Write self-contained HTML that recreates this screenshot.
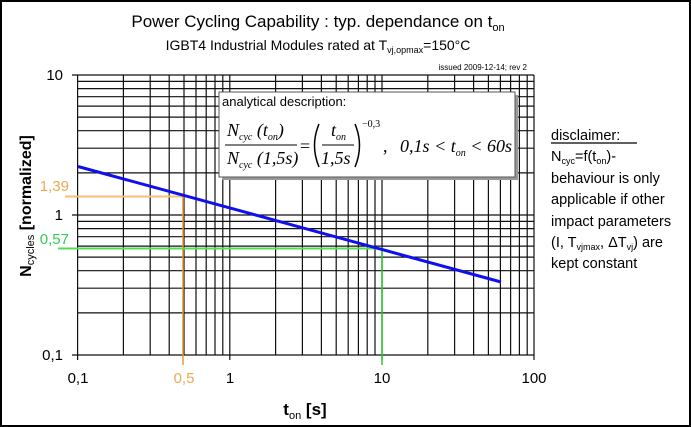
<!DOCTYPE html>
<html><head><meta charset="utf-8"><style>
html,body{margin:0;padding:0;background:#fff}
svg{display:block}
text{font-family:"Liberation Sans",Arial,sans-serif}
text.s{font-family:"Liberation Serif","Times New Roman",serif;font-style:italic}
</style></head><body>
<svg width="691" height="427" viewBox="0 0 691 427" xmlns="http://www.w3.org/2000/svg">
<rect x="1" y="1" width="689" height="425" fill="#fff" stroke="#000" stroke-width="2"/>
<text x="318" y="27" font-size="17" text-anchor="middle">Power Cycling Capability : typ. dependance on t<tspan font-size="11" dy="4">on</tspan></text>
<text x="318" y="50" font-size="14" text-anchor="middle">IGBT4 Industrial Modules rated at T<tspan font-size="9" dy="3">vj,opmax</tspan><tspan dy="-3">=150°C</tspan></text>
<text x="527" y="70" font-size="8" text-anchor="end">issued 2009-12-14; rev 2</text>
<g stroke="#111" stroke-width="1.2" fill="none">
<path d="M77.6 75V355M123.4 75V355M150.2 75V355M169.2 75V355M184 75V355M196 75V355M206.2 75V355M215 75V355M222.8 75V355M229.8 75V355M275.6 75V355M302.4 75V355M321.4 75V355M336.2 75V355M348.2 75V355M358.4 75V355M367.2 75V355M375 75V355M382 75V355M427.8 75V355M454.6 75V355M473.6 75V355M488.4 75V355M500.4 75V355M510.6 75V355M519.4 75V355M527.2 75V355M534 75V355"/>
<path d="M72 75H534M77.6 81.4H534M77.6 88.6H534M77.6 96.7H534M77.6 106.1H534M77.6 117.1H534M77.6 130.7H534M77.6 148.2H534M77.6 172.9H534M72 215H534M77.6 221.4H534M77.6 228.6H534M77.6 236.7H534M77.6 246.1H534M77.6 257.1H534M77.6 270.7H534M77.6 288.2H534M77.6 312.9H534M72 355H534"/>
<path d="M77.6 355V360M229.8 355V360M382 355V360M534 355V360"/>
</g>
<rect x="222" y="95" width="296" height="85" fill="#999"/>
<rect x="219" y="92" width="296" height="85" fill="#fff" stroke="#555" stroke-width="1"/>
<text x="222" y="106" font-size="13">analytical description:</text>
<text class="s" x="227" y="136" font-size="18">N<tspan font-size="10" dy="4">cyc</tspan><tspan dy="-4"> (t</tspan><tspan font-size="10" dy="4">on</tspan><tspan dy="-4">)</tspan></text>
<text class="s" x="227" y="164" font-size="18">N<tspan font-size="10" dy="4">cyc</tspan><tspan dy="-4"> (1,5s)</tspan></text>
<text class="s" x="300" y="152" font-size="18" style="font-style:normal">=</text>
<path d="M319 124 Q310 145.5 319 167" stroke="#000" stroke-width="1.5" fill="none"/>
<path d="M355 124 Q364 145.5 355 167" stroke="#000" stroke-width="1.5" fill="none"/>
<text class="s" x="331" y="136" font-size="18">t<tspan font-size="10" dy="4">on</tspan></text>
<text class="s" x="321" y="164" font-size="18">1,5s</text>
<text class="s" x="362" y="127" font-size="10" style="font-style:normal">−0,3</text>
<text class="s" x="383" y="152" font-size="18" style="font-style:normal">,</text>
<text class="s" x="400" y="152" font-size="18" textLength="112">0,1s &lt; t<tspan font-size="10" dy="4">on</tspan><tspan dy="-4"> &lt; 60s</tspan></text>
<line x1="225" y1="145" x2="297" y2="145" stroke="#000" stroke-width="1"/>
<line x1="322" y1="145" x2="354" y2="145" stroke="#000" stroke-width="1"/>
<line x1="65" y1="196.5" x2="184" y2="196.5" stroke="#f5c070" stroke-width="2"/>
<line x1="183" y1="196" x2="183" y2="365" stroke="#e89a30" stroke-width="1.5"/>
<line x1="58" y1="248.5" x2="382" y2="248.5" stroke="#55dd55" stroke-width="2"/>
<line x1="382" y1="248" x2="382" y2="365" stroke="#22cc22" stroke-width="1.5"/>
<line x1="78" y1="166.5" x2="501" y2="282" stroke="#1010ee" stroke-width="3"/>
<g font-size="15" text-anchor="end">
<text x="63" y="80">10</text>
<text x="63" y="220">1</text>
<text x="63" y="360">0,1</text>
<text x="69" y="191" fill="#f0a850">1,39</text>
<text x="69" y="244" fill="#33cc55">0,57</text>
</g>
<g font-size="15" text-anchor="middle">
<text x="78" y="383">0,1</text>
<text x="184" y="383" fill="#f0a850">0,5</text>
<text x="230" y="383">1</text>
<text x="382" y="383">10</text>
<text x="534" y="383">100</text>
</g>
<text x="305" y="415" font-size="17" font-weight="bold" text-anchor="middle">t<tspan font-size="11" dy="4" font-weight="normal">on</tspan><tspan dy="-4"> [s]</tspan></text>
<text transform="translate(31,206) rotate(-90)" font-size="16" font-weight="bold" text-anchor="middle">N<tspan font-size="11" dy="3" font-weight="normal">cycles</tspan><tspan dy="-3"> [normalized]</tspan></text>
<g font-size="14.5">
<text x="551" y="140">disclaimer:</text>
<line x1="551" y1="143" x2="637" y2="143" stroke="#000" stroke-width="1.2"/>
<text x="551" y="161">N<tspan font-size="9" dy="3">cyc</tspan><tspan dy="-3">=f(t</tspan><tspan font-size="9" dy="3">on</tspan><tspan dy="-3">)-</tspan></text>
<text x="551" y="183">behaviour is only</text>
<text x="551" y="204">applicable if other</text>
<text x="551" y="226">impact parameters</text>
<text x="551" y="247">(I, T<tspan font-size="9" dy="3">vjmax</tspan><tspan dy="-3">, ΔT</tspan><tspan font-size="9" dy="3">vj</tspan><tspan dy="-3">) are</tspan></text>
<text x="551" y="268">kept constant</text>
</g>
</svg>
</body></html>
